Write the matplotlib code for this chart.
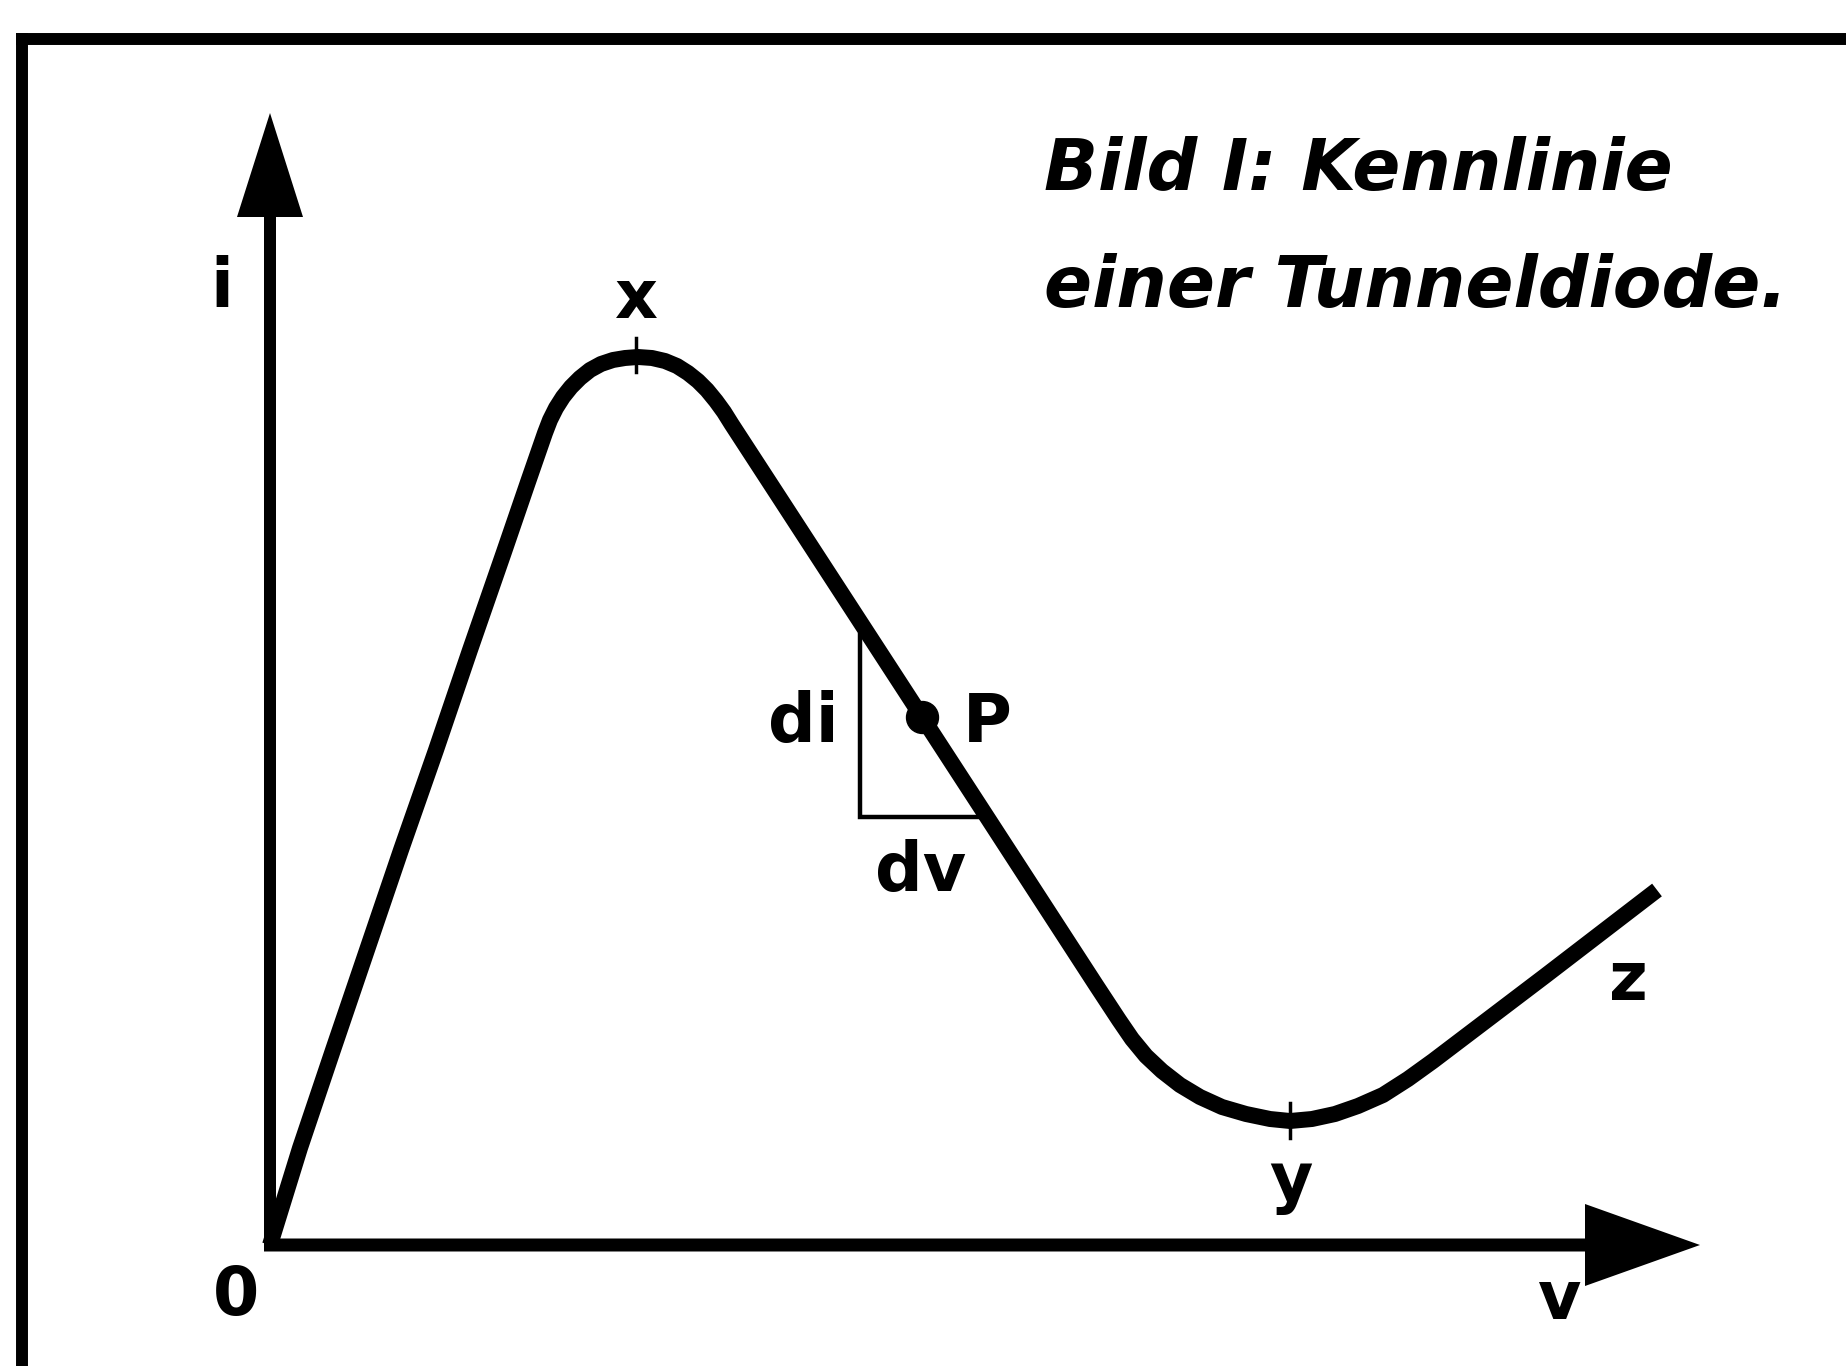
import matplotlib
matplotlib.use("Agg")
import matplotlib.pyplot as plt
from matplotlib.lines import Line2D

# Kennlinie (relative units)
v = [0.000, 0.300, 0.630, 0.970, 1.310, 1.660, 2.000, 2.340, 2.580, 2.750,
     2.800, 2.860, 2.930, 3.010, 3.100, 3.200, 3.310, 3.430, 3.550, 3.680,
     3.820, 3.950, 4.070, 4.180, 4.280, 4.370, 4.460, 4.540, 4.615, 5.090,
     5.987, 6.520, 7.157, 8.260, 8.490, 8.620, 8.760, 8.920, 9.100, 9.300,
     9.520, 9.760, 10.000, 10.200, 10.420, 10.650, 10.880, 11.130, 11.380,
     11.630, 12.750, 13.870]
i = [0.000, 0.970, 1.950, 2.950, 3.950, 4.950, 5.950, 6.930, 7.630, 8.120,
     8.250, 8.370, 8.480, 8.580, 8.670, 8.750, 8.810, 8.850, 8.870, 8.880,
     8.870, 8.840, 8.790, 8.720, 8.640, 8.550, 8.440, 8.330, 8.210, 7.480,
     6.100, 5.280, 4.300, 2.600, 2.250, 2.060, 1.890, 1.740, 1.600, 1.480,
     1.380, 1.310, 1.260, 1.240, 1.260, 1.310, 1.390, 1.500, 1.660,
     1.840, 2.690, 3.550]

peak = (3.66, 8.88)     # x
valley = (10.20, 1.24)  # y
p_point = (6.52, 5.28)  # P
di_v = 5.90
di_top, di_bottom = 6.10, 4.28
dv_right = 7.16

v_max, i_max = 14.36, 11.32

title_lines = ["Bild I: Kennlinie", "einer Tunneldiode."]

fig = plt.figure(figsize=(18.46, 13.66), dpi=100)
ax = fig.add_axes([0, 0, 1, 1])
ax.set_xlim(-2.70, 15.76)
ax.set_ylim(-1.21, 12.45)
ax.axis("off")

# frame (top and left edge of the scanned box)
fig.add_artist(Line2D([16 / 1846, 1], [1 - 39 / 1366] * 2, color="k", lw=8.6,
                      transform=fig.transFigure, solid_capstyle="butt"))
fig.add_artist(Line2D([22 / 1846] * 2, [0, 1 - 33 / 1366], color="k", lw=8.6,
                      transform=fig.transFigure, solid_capstyle="butt"))

# axes with arrows
ax.arrow(0, 0, 0, i_max, width=0.12, head_width=0.66, head_length=1.04,
         length_includes_head=True, color="k", lw=0)
ax.arrow(-0.06, 0, v_max, 0, width=0.13, head_width=0.82, head_length=1.15,
         length_includes_head=True, color="k", lw=0)

# curve
ax.plot(v, i, color="k", lw=11.5, solid_joinstyle="round", solid_capstyle="butt")

# small marks at peak and valley
ax.plot([peak[0]] * 2, [peak[1] - 0.15, peak[1] + 0.19], color="k", lw=2.5)
ax.plot([valley[0]] * 2, [valley[1] - 0.17, valley[1] + 0.18], color="k", lw=2.5)

# slope triangle and point P
ax.plot([di_v, di_v, dv_right], [di_top, di_bottom, di_bottom], color="k", lw=3.2,
        solid_joinstyle="miter")
ax.plot(*p_point, "o", color="k", ms=23)

lab = dict(fontsize=48, family="DejaVu Sans", fontweight="bold", ha="center",
           va="baseline", color="k")
ax.text(-0.48, 9.38, "i", **lab)
ax.text(3.66, 9.27, "x", **lab)
ax.text(-0.34, -0.70, "0", **lab)
ax.text(12.90, -0.74, "v", **lab)
ax.text(10.21, 0.45, "y", **lab)
ax.text(13.58, 2.45, "z", **lab)
ax.text(5.33, 5.03, "di", **lab)
ax.text(7.17, 5.03, "P", **lab)
ax.text(6.51, 3.54, "dv", **lab)

ttl = dict(fontsize=51, family="DejaVu Sans", fontweight="bold", style="italic",
           ha="left", va="baseline", color="k")
ax.text(7.74, 10.55, title_lines[0], **ttl)
ax.text(7.74, 9.38, title_lines[1], **ttl)

fig.savefig("out.png", dpi=100, facecolor="white")
